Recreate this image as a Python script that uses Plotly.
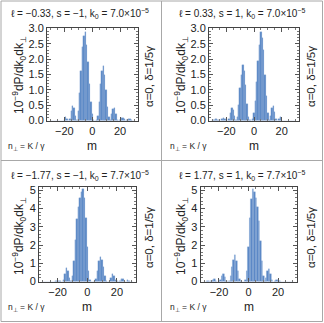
import plotly.graph_objects as go
from plotly.subplots import make_subplots

m = list(range(-30, 31))

# histogram heights (units of 1e-9), one value per integer m
p1 = [0, 0, 0, 0, 0, 0, 0, 0, 0, 0,
      0.02, 0.1, 0.06, 0.0, 0.06, 0.3, 0.48, 0.4, 0.15, 0.03,
      0.3, 0.9, 1.6, 2.4, 2.75, 2.9, 2.45, 1.9, 1.2, 0.6,
      0.2, 0.03, 0.0, 0.02, 0.15, 0.6, 1.2, 1.6, 1.78, 1.5,
      1.0, 0.45, 0.1, 0.02, 0.2, 0.37, 0.4, 0.2, 0.03, 0.0,
      0.03, 0.07, 0.07, 0.04, 0.0, 0.02, 0.04, 0.04, 0.02, 0, 0]
p2 = [0.03, 0.03, 0.04, 0.04, 0.02, 0.0, 0.0, 0.05, 0.07, 0.06,
      0.02, 0.0, 0.05, 0.25, 0.4, 0.35, 0.15, 0.02, 0.1, 0.5,
      1.05, 1.5, 1.82, 1.6, 1.15, 0.55, 0.12, 0.02, 0.0, 0.05,
      0.25, 0.65, 1.25, 1.95, 2.45, 2.9, 2.7, 2.3, 1.5, 0.8,
      0.25, 0.03, 0.15, 0.42, 0.48, 0.28, 0.05, 0.0, 0.06, 0.1,
      0.02, 0, 0, 0, 0, 0, 0, 0, 0, 0, 0]
p3 = [0, 0, 0, 0, 0, 0, 0, 0, 0, 0.02,
      0.05, 0.05, 0.02, 0.0, 0.1, 0.4, 0.75, 0.55, 0.2, 0.03,
      0.3, 1.1, 2.3, 3.4, 4.1, 4.6, 4.9, 5.05, 4.6, 3.5,
      1.9, 0.6, 0.08, 0.0, 0.0, 0.02, 0.12, 0.6, 1.1, 1.35,
      1.2, 0.8, 0.3, 0.05, 0.0, 0.05, 0.2, 0.4, 0.3, 0.1,
      0.02, 0.0, 0.05, 0.15, 0.12, 0.02, 0.0, 0.07, 0.05, 0.0, 0]
p4 = [0, 0, 0.05, 0.05, 0, 0.02, 0.1, 0.12, 0.05, 0.0,
      0.02, 0.1, 0.3, 0.42, 0.25, 0.05, 0.0, 0.05, 0.3, 0.8,
      1.2, 1.45, 1.15, 0.6, 0.12, 0.02, 0.0, 0.0, 0.1, 0.6,
      1.9, 3.5, 4.5, 5.05, 4.9, 4.6, 4.1, 3.3, 2.2, 1.1,
      0.3, 0.03, 0.2, 0.55, 0.7, 0.4, 0.1, 0.0, 0.05, 0.1,
      0.08, 0.02, 0, 0, 0, 0, 0, 0, 0, 0, 0]

titles = [
    "ℓ = −0.33, s = −1, k<sub>0</sub> = 7.0×10<sup>−5</sup>",
    "ℓ = 0.33, s = 1, k<sub>0</sub> = 7.0×10<sup>−5</sup>",
    "ℓ = −1.77, s = −1, k<sub>0</sub> = 7.7×10<sup>−5</sup>",
    "ℓ = 1.77, s = 1, k<sub>0</sub> = 7.7×10<sup>−5</sup>",
]

W, H = 324, 323
FONT = "Liberation Sans"
BAR = "#5a88c6"

def px(x):
    return x / W

def py(y):
    return (H - y) / H

# plot boxes in pixels: x0, x1, y_top, y_bottom
boxes = [(47, 137.5, 28, 120.5), (209, 299, 28, 120.5),
         (39, 135.5, 187, 281.5), (200.5, 296.5, 187, 281.5)]
yranges = [[0, 3.02], [0, 3.02], [0, 5.18], [0, 5.18]]
ydticks = [0.5, 0.5, 1, 1]
yfmt = [".1f", ".1f", "d", "d"]

fig = make_subplots(rows=2, cols=2)
series = [p1, p2, p3, p4]
pos = [(1, 1), (1, 2), (2, 1), (2, 2)]
for i, vals in enumerate(series):
    r, c = pos[i]
    fig.add_bar(x=m, y=vals, width=1, row=r, col=c,
                marker=dict(color=BAR, line=dict(color="#8aaad6", width=0.25)),
                hoverinfo="skip", showlegend=False)

annots = []
for i in range(4):
    x0, x1, yt, yb = boxes[i]
    ax = "xaxis" if i == 0 else f"xaxis{i+1}"
    ay = "yaxis" if i == 0 else f"yaxis{i+1}"
    fig.layout[ax].update(
        domain=[px(x0), px(x1)], range=[-32.5, 32.5], automargin=False,
        tickvals=[-20, 0, 20], ticks="inside", ticklen=4, tickcolor="#555",
        minor=dict(ticks="inside", ticklen=2, dtick=5, tickcolor="#777"),
        showline=True, linecolor="#444", linewidth=1, mirror="ticks",
        showgrid=False, zeroline=False,
        tickfont=dict(family=FONT, size=11, color="#222"),
    )
    fig.layout[ay].update(
        domain=[py(yb), py(yt)], range=yranges[i], automargin=False,
        dtick=ydticks[i], tick0=0, tickformat=yfmt[i],
        ticks="inside", ticklen=4, tickcolor="#555",
        minor=dict(ticks="inside", ticklen=2, dtick=ydticks[i] / 5, tickcolor="#777"),
        showline=True, linecolor="#444", linewidth=1, mirror="ticks",
        showgrid=False, zeroline=False,
        tickfont=dict(family=FONT, size=11, color="#222"),
    )
    ox = 0 if i % 2 == 0 else 162
    oy = 0 if i < 2 else 161
    annots.append(dict(text=titles[i], x=px(ox + 80), y=py(oy + 14),
                       font=dict(size=10)))
    annots.append(dict(text="10<sup>−9</sup>dP/dk<sub>0</sub>dk<sub>⊥</sub>",
                       x=px(ox + 19), y=py(oy + 75), textangle=-90,
                       font=dict(size=12)))
    annots.append(dict(text="α=0, δ=1/5γ", x=px(ox + 149), y=py(oy + 77),
                       textangle=-90, font=dict(size=11.5)))
    annots.append(dict(text="m", x=px((x0 + x1) / 2), y=py(oy + 146),
                       font=dict(size=12)))
    annots.append(dict(text="n<sub>⊥</sub> = K / γ", x=px(ox + 26), y=py(oy + 146),
                       font=dict(size=8.5)))

for a in annots:
    a.update(xref="paper", yref="paper", showarrow=False,
             xanchor="center", yanchor="middle")
    a["font"].update(family=FONT, color="#222")

grid = "#a8a8a8"
shapes = [
    dict(type="rect", x0=px(1), x1=px(322.5), y0=py(321.5), y1=py(1)),
    dict(type="line", x0=px(161.5), x1=px(161.5), y0=py(1), y1=py(321.5)),
    dict(type="line", x0=px(1), x1=px(322.5), y0=py(160.5), y1=py(160.5)),
]
for s in shapes:
    s.update(xref="paper", yref="paper", line=dict(color=grid, width=1))

fig.update_layout(
    width=W, height=H,
    margin=dict(l=0, r=0, t=0, b=0),
    paper_bgcolor="white", plot_bgcolor="white",
    bargap=0, hovermode=False,
    annotations=annots, shapes=shapes,
)

# page body has an 8px default margin; drop it so the figure fills the window
fig.write_html("out.html", config={"displayModeBar": False},
               post_script="document.body.style.margin='0';")
